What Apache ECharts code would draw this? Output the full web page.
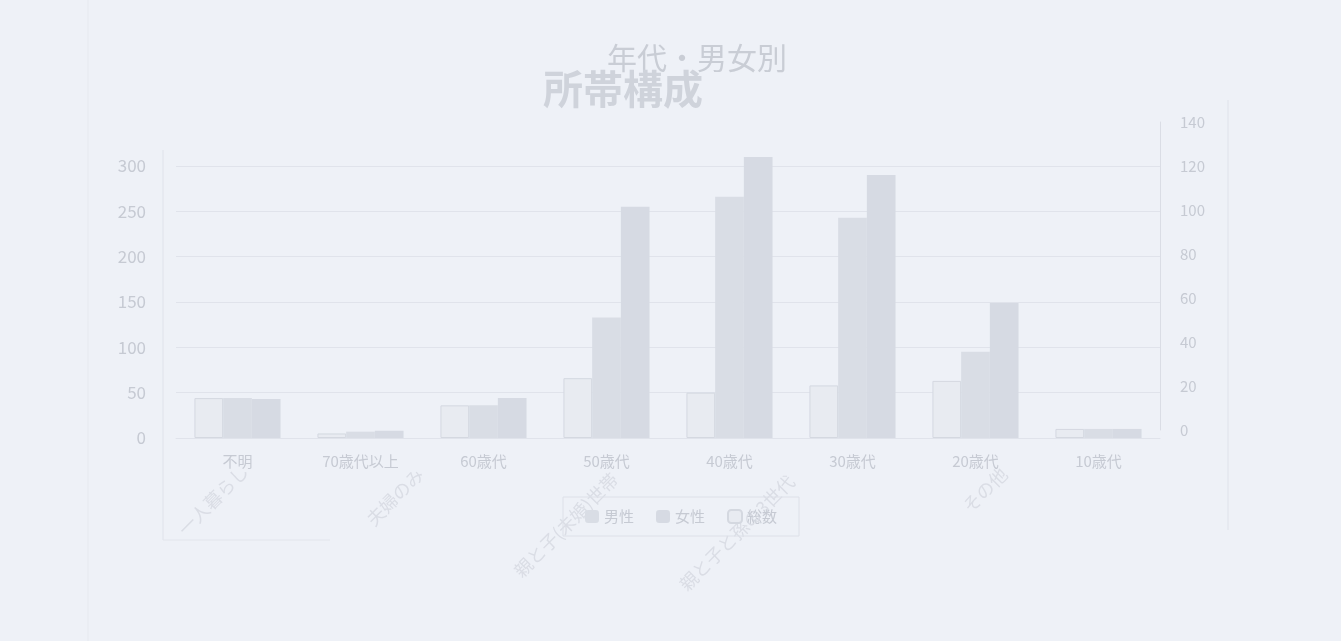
<!DOCTYPE html>
<html>
<head>
<meta charset="utf-8">
<script src="https://cdn.jsdelivr.net/npm/echarts@6/dist/echarts.min.js"></script>
<style>
html,body{margin:0;padding:0;background:#eef1f7;}
#c{width:1341px;height:641px;}
</style>
</head>
<body>
<div id="c"></div>
<script>
const categories = ['不明','70歳代以上','60歳代','50歳代','40歳代','30歳代','20歳代','10歳代'];
const seriesNames = ['総数','男性','女性'];
const totalValues = [44, 5, 36, 66, 50, 58, 63, 10];
const maleValues = [44, 7, 36, 133, 266, 243, 95, 10];
const femaleValues = [43, 8, 44, 255, 310, 290, 149, 10];
const leftTicks = {min: 0, max: 300, interval: 50};
const rightTicks = {min: 0, max: 140, interval: 20};
const titleLine1 = '年代・男女別';
const titleLine2 = '所帯構成';
const ghostLabels = ['一人暮らし','夫婦のみ','親と子(未婚)世帯','親と子と孫の3世代','その他'];

const faint = '#c6cad3';
const faintLine = '#e0e3eb';
const barGray = '#d9dde5';
const font = '"Noto Sans CJK JP", "Noto Sans", sans-serif';

const chart = echarts.init(document.getElementById('c'), null, {renderer: 'canvas'});

const ghostPos = [[213, 500, 18], [395, 497, 18], [566, 525, 18], [737, 533, 18], [985, 490, 18]];

const option = {
  backgroundColor: '#eef1f7',
  animation: false,
  title: [
    {text: titleLine1, left: 602, top: 38, textStyle: {fontFamily: font, fontSize: 30, fontWeight: 'normal', color: '#c9cdd5'}},
    {text: titleLine2, left: 538, top: 64, textStyle: {fontFamily: font, fontSize: 40, fontWeight: 'bold', color: '#cfd3db'}}
  ],
  legend: {
    data: ['男性','女性','総数'],
    left: 563, top: 497,
    padding: [12, 22, 12, 22],
    itemGap: 22,
    itemWidth: 14, itemHeight: 13,
    borderWidth: 1, borderColor: '#dde0e8',
    textStyle: {fontFamily: font, fontSize: 15, color: faint}
  },
  grid: [
    {left: 176, right: 181, top: 166, bottom: 203},
    {left: 176, right: 181, top: 122, bottom: 211}
  ],
  xAxis: [
    {
      type: 'category', gridIndex: 0, data: categories,
      axisLine: {show: true, lineStyle: {color: faintLine}},
      axisTick: {show: false},
      axisLabel: {fontFamily: font, fontSize: 15, color: faint, margin: 16}
    },
    {type: 'category', gridIndex: 1, data: categories, show: false}
  ],
  yAxis: [
    {
      type: 'value', gridIndex: 0, position: 'left',
      min: leftTicks.min, max: leftTicks.max, interval: leftTicks.interval,
      axisLine: {show: false}, axisTick: {show: false},
      axisLabel: {fontFamily: font, fontSize: 17, color: faint, margin: 30},
      splitLine: {show: true, lineStyle: {color: faintLine, width: 1}}
    },
    {
      type: 'value', gridIndex: 1, position: 'right',
      min: rightTicks.min, max: rightTicks.max, interval: rightTicks.interval,
      axisLine: {show: true, lineStyle: {color: '#dadde5'}},
      axisTick: {show: false},
      axisLabel: {fontFamily: font, fontSize: 15, color: faint, margin: 20},
      splitLine: {show: false}
    }
  ],
  series: [
    {
      name: seriesNames[0], type: 'bar', xAxisIndex: 0, yAxisIndex: 0,
      data: totalValues, barGap: '0%', barCategoryGap: '30%', clip: false,
      itemStyle: {color: '#e8ebf1', borderColor: '#d4d8e0', borderWidth: 1}
    },
    {
      name: seriesNames[1], type: 'bar', xAxisIndex: 0, yAxisIndex: 0,
      data: maleValues, barGap: '0%', barCategoryGap: '30%', clip: false,
      itemStyle: {color: barGray}
    },
    {
      name: seriesNames[2], type: 'bar', xAxisIndex: 0, yAxisIndex: 0,
      data: femaleValues, barGap: '0%', barCategoryGap: '30%', clip: false,
      itemStyle: {color: '#d6dae3'}
    }
  ],
  graphic: [
    {type: 'line', shape: {x1: 163, y1: 150, x2: 163, y2: 540}, style: {stroke: '#dfe2ea', lineWidth: 1}, silent: true},
    {type: 'line', shape: {x1: 163, y1: 540, x2: 330, y2: 540}, style: {stroke: '#e2e5ec', lineWidth: 1}, silent: true},
    {type: 'line', shape: {x1: 1228, y1: 100, x2: 1228, y2: 530}, style: {stroke: '#dfe2ea', lineWidth: 1}, silent: true},
    {type: 'line', shape: {x1: 88, y1: 0, x2: 88, y2: 641}, style: {stroke: '#e6e9ef', lineWidth: 1}, silent: true}
  ].concat(ghostLabels.map((t, i) => ({
    type: 'text', x: ghostPos[i][0], y: ghostPos[i][1], rotation: Math.PI / 4, silent: true,
    style: {text: t, fontFamily: font, fontSize: ghostPos[i][2], fontWeight: 'normal', fill: '#dadde5', align: 'center', verticalAlign: 'middle'}
  })))
};
chart.setOption(option);
</script>
</body>
</html>
